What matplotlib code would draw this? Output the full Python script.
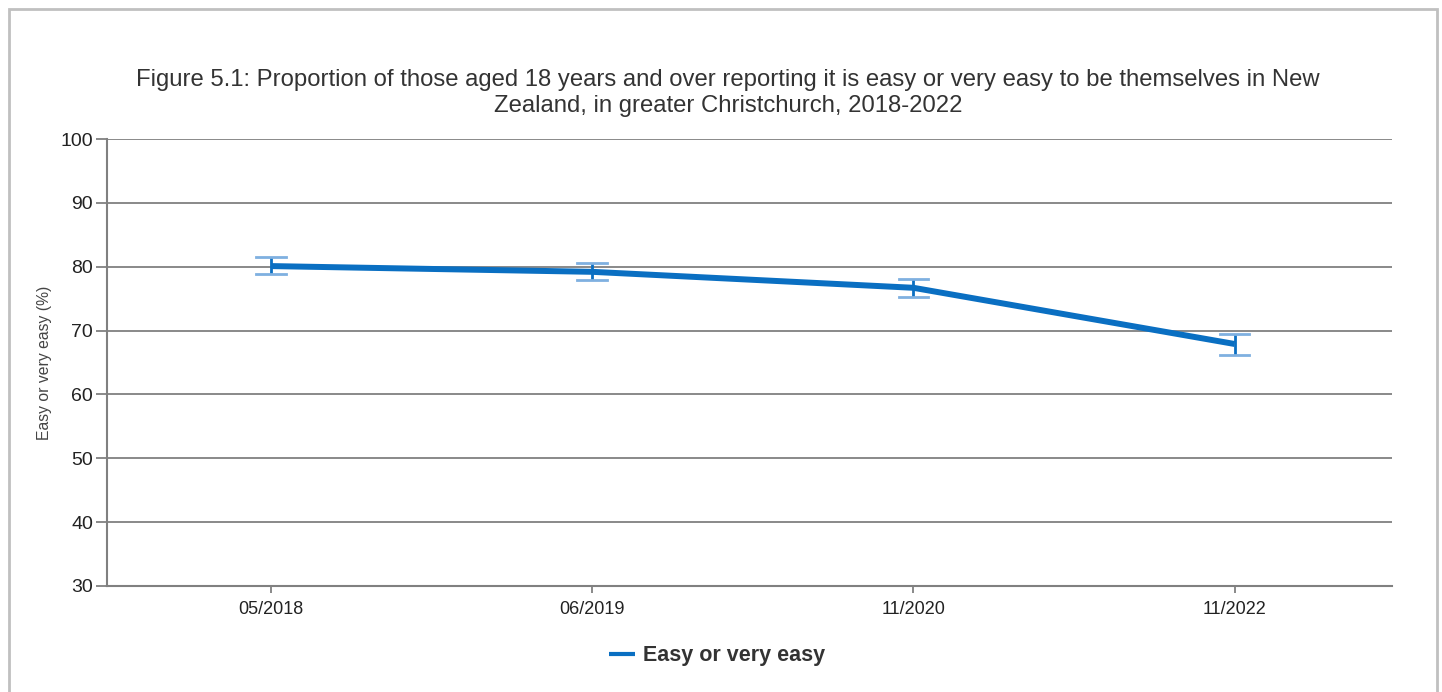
import matplotlib.pyplot as plt
from matplotlib.patches import Rectangle

periods = ["05/2018", "06/2019", "11/2020", "11/2022"]
easy_pct = [80.1, 79.2, 76.7, 67.9]
err_low = [1.3, 1.3, 1.4, 1.7]
err_high = [1.4, 1.4, 1.4, 1.6]

plt.rcParams['font.family'] = ['Liberation Sans', 'DejaVu Sans']

fig = plt.figure(figsize=(14.42, 6.92), dpi=100)
ax = fig.add_axes([107/1442, 1 - 586/692, (1392-107)/1442, (586-139)/692])

# outer frame around the whole chart
fig.patches.append(Rectangle((8.5/1442, -0.1), (1428)/1442, 1.1 - 8.5/692,
                             transform=fig.transFigure, fill=False,
                             edgecolor='#c0c0c0', linewidth=2))

xs = list(range(len(periods)))
ax.plot(xs, easy_pct, color='#0a6fc2', linewidth=4.3, solid_capstyle='butt',
        label='Easy or very easy', zorder=3)
ax.errorbar(xs, easy_pct, yerr=[err_low, err_high], fmt='none',
            ecolor='#0a6fc2', elinewidth=2, capsize=0, zorder=4)
# lighter caps
for x, y, lo, hi in zip(xs, easy_pct, err_low, err_high):
    ax.plot([x - 0.046, x + 0.046], [y + hi, y + hi], color='#7fb0e0', lw=2, zorder=4)
    ax.plot([x - 0.046, x + 0.046], [y - lo, y - lo], color='#7fb0e0', lw=2, zorder=4)

ax.set_xlim(-0.51, 3.49)
ax.set_ylim(30, 100)
ax.set_yticks(range(30, 101, 10))
ax.set_xticks(xs)
ax.set_xticklabels(periods, fontsize=13, color='#222222')
ax.tick_params(axis='y', labelsize=14, colors='#222222', length=8, width=1.3,
               color='#808080', pad=2)
ax.tick_params(axis='x', length=5, width=1.3, color='#808080', pad=6)
ax.grid(axis='y', color='#808080', linewidth=1.3, zorder=1)
for s in ['top', 'right']:
    ax.spines[s].set_visible(False)
for s in ['left', 'bottom']:
    ax.spines[s].set_color('#808080')
    ax.spines[s].set_linewidth(1.5)
ax.set_axisbelow(True)

ax.set_ylabel("Easy or very easy (%)", fontsize=11.3, color='#444444', labelpad=6)

fig.text(728/1442, 1 - 93/692,
         "Figure 5.1: Proportion of those aged 18 years and over reporting it is easy or very easy to be themselves in New\n"
         "Zealand, in greater Christchurch, 2018-2022",
         ha='center', va='center', fontsize=17.2, color='#333333', linespacing=1.25)

leg = fig.legend(handles=[ax.lines[0]], loc='center', bbox_to_anchor=(717/1442, 1 - 656/692),
                 frameon=False, handlelength=1.2, handletextpad=0.4,
                 prop={'weight': 'bold', 'size': 15.5})
leg.get_lines()[0].set_linewidth(3)
for t in leg.get_texts():
    t.set_color('#333333')

fig.savefig('out.png', dpi=100)
